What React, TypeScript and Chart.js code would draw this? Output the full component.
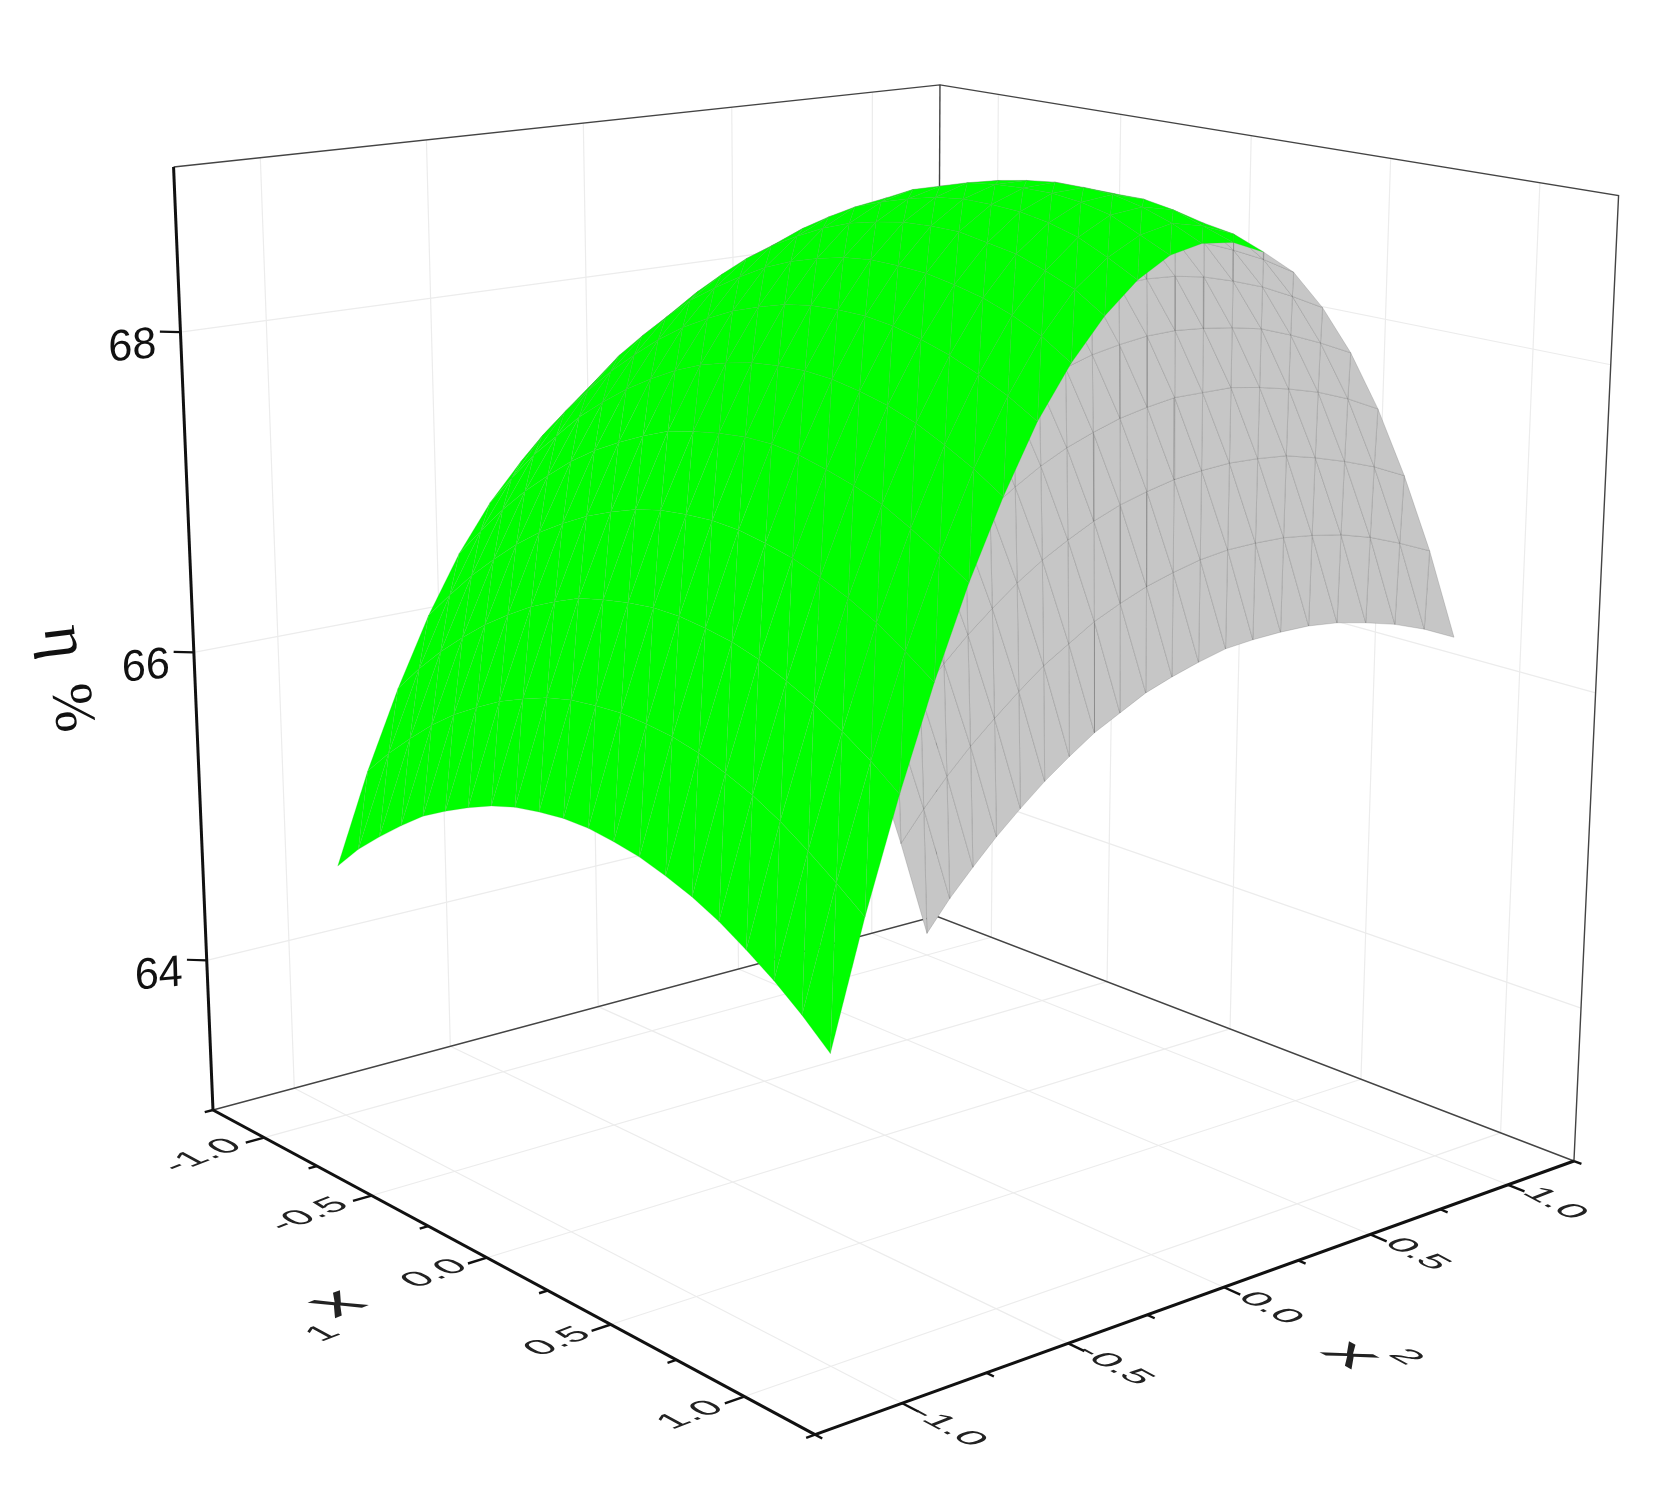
import React, { useEffect, useRef } from "react";
import { Chart, registerables } from "chart.js";
Chart.register(...registerables);

const x1Values = [-1,-0.9,-0.8,-0.7,-0.6,-0.5,-0.4,-0.3,-0.2,-0.1,0,0.1,0.2,0.3,0.4,0.5,0.6,0.7,0.8,0.9,1];
const x2Values = [-1,-0.9,-0.8,-0.7,-0.6,-0.5,-0.4,-0.3,-0.2,-0.1,0,0.1,0.2,0.3,0.4,0.5,0.6,0.7,0.8,0.9,1];
// one row per x2 value, one column per x1 value
const surfaceZ = [
[64.65,64.82,64.96,65.09,65.21,65.30,65.38,65.45,65.50,65.53,65.55,65.55,65.53,65.50,65.45,65.39,65.31,65.21,65.10,64.97,64.82],
[65.22,65.39,65.54,65.68,65.80,65.90,65.99,66.06,66.12,66.16,66.18,66.19,66.18,66.16,66.12,66.06,65.99,65.90,65.79,65.67,65.54],
[65.71,65.89,66.05,66.19,66.32,66.43,66.53,66.61,66.68,66.72,66.75,66.77,66.77,66.75,66.72,66.67,66.60,66.52,66.42,66.31,66.18],
[66.14,66.32,66.49,66.64,66.78,66.90,67.00,67.09,67.16,67.22,67.26,67.28,67.29,67.28,67.25,67.21,67.15,67.08,66.99,66.88,66.76],
[66.50,66.69,66.87,67.03,67.17,67.30,67.41,67.50,67.58,67.65,67.69,67.72,67.74,67.74,67.72,67.68,67.63,67.57,67.48,67.38,67.27],
[66.79,66.99,67.18,67.34,67.50,67.63,67.75,67.85,67.94,68.01,68.06,68.10,68.12,68.13,68.12,68.09,68.05,67.99,67.91,67.82,67.71],
[67.02,67.23,67.42,67.59,67.75,67.89,68.02,68.13,68.22,68.30,68.36,68.41,68.44,68.45,68.45,68.43,68.39,68.34,68.27,68.19,68.09],
[67.18,67.40,67.59,67.78,67.94,68.09,68.23,68.34,68.44,68.53,68.60,68.65,68.69,68.71,68.71,68.70,68.67,68.63,68.57,68.49,68.38],
[67.27,67.50,67.70,67.89,68.06,68.22,68.36,68.49,68.60,68.69,68.77,68.83,68.87,68.90,68.91,68.91,68.88,68.85,68.79,68.72,68.61],
[67.30,67.53,67.74,67.94,68.12,68.28,68.43,68.56,68.68,68.78,68.87,68.93,68.98,69.02,69.04,69.04,69.03,69.00,68.95,68.87,68.78],
[67.26,67.49,67.72,67.92,68.11,68.28,68.44,68.58,68.70,68.81,68.90,68.98,69.03,69.08,69.10,69.11,69.11,69.09,69.05,68.97,68.89],
[67.15,67.39,67.62,67.83,68.03,68.21,68.37,68.52,68.65,68.77,68.87,68.95,69.02,69.07,69.10,69.12,69.12,69.11,69.07,69.01,68.93],
[66.98,67.23,67.46,67.68,67.89,68.07,68.24,68.40,68.54,68.66,68.77,68.86,68.93,68.99,69.03,69.06,69.06,69.06,69.03,68.97,68.91],
[66.73,66.99,67.24,67.46,67.67,67.87,68.05,68.21,68.36,68.49,68.60,68.70,68.78,68.84,68.89,68.93,68.94,68.94,68.93,68.90,68.83],
[66.42,66.69,66.94,67.18,67.40,67.60,67.78,67.95,68.11,68.24,68.37,68.47,68.56,68.63,68.69,68.73,68.75,68.76,68.75,68.73,68.69],
[66.05,66.32,66.58,66.82,67.05,67.26,67.45,67.63,67.79,67.94,68.06,68.18,68.27,68.35,68.42,68.47,68.50,68.51,68.51,68.49,68.46],
[65.61,65.89,66.15,66.40,66.64,66.85,67.05,67.24,67.41,67.56,67.70,67.82,67.92,68.01,68.08,68.13,68.17,68.20,68.20,68.19,68.17],
[65.10,65.39,65.66,65.91,66.16,66.38,66.59,66.78,66.96,67.12,67.26,67.39,67.50,67.60,67.67,67.74,67.78,67.81,67.83,67.83,67.81],
[64.52,64.82,65.10,65.36,65.61,65.84,66.06,66.26,66.44,66.61,66.76,66.89,67.01,67.11,67.20,67.27,67.33,67.36,67.38,67.39,67.38],
[63.87,64.18,64.47,64.74,64.99,65.23,65.46,65.66,65.86,66.03,66.19,66.33,66.46,66.57,66.66,66.74,66.80,66.85,66.88,66.89,66.89],
[63.16,63.48,63.77,64.05,64.31,64.56,64.79,65.01,65.20,65.39,65.55,65.70,65.84,65.95,66.05,66.14,66.21,66.26,66.30,66.32,66.32],
];
const majorTicks = [-1,-0.5,0,0.5,1];
const minorTicks = [-1.25,-0.75,-0.25,0.25,0.75,1.25];
const zTicks = [64,66,68];
const AX = 1.25, ZMIN = 63, ZMAX = 69;

function den(a:number,b:number,z:number){const u=(a+AX)/(2*AX),v=(b+AX)/(2*AX),w=(z-ZMIN)/(ZMAX-ZMIN);return 1-0.1653*u+0.1403*v-0.0574*w;}
function project(a:number,b:number,z:number){
  const u=(a+AX)/(2*AX),v=(b+AX)/(2*AX),w=(z-ZMIN)/(ZMAX-ZMIN);
  const d=den(a,b,z);
  return {x:(467.3*u+854.3*v+213-49.4*w)/d,y:(87.5*u-65.5*v+1110-952.6*w)/d};
}
const ln=(pts:any[],color:string,width:number,extra:any={})=>({type:"scatter",data:pts,showLine:true,borderColor:color,borderWidth:width,pointRadius:0,fill:false,...extra});

function buildDatasets(){
  const front:any[]=[],tris:any[]=[],back:any[]=[];
  const P=project;
  front.push(ln([P(-AX,-AX,ZMIN),P(-AX,-AX,ZMAX)],"#111",3));
  front.push(ln([P(-AX,-AX,ZMIN),P(AX,-AX,ZMIN)],"#111",3));
  front.push(ln([P(AX,-AX,ZMIN),P(AX,AX,ZMIN)],"#111",3));
  for(const t of majorTicks){
    front.push(ln([P(t,-AX,ZMIN),P(t,-AX-0.055,ZMIN)],"#111",2.4));
    front.push(ln([P(AX,t,ZMIN),P(AX+0.055,t,ZMIN)],"#111",2.4));
  }
  for(const t of minorTicks){
    front.push(ln([P(t,-AX,ZMIN),P(t,-AX-0.025,ZMIN)],"#111",2.4));
    front.push(ln([P(AX,t,ZMIN),P(AX+0.025,t,ZMIN)],"#111",2.4));
  }
  for(const z of zTicks) front.push(ln([P(-AX,-AX,z),P(-AX-0.037,-AX-0.037,z)],"#111",2.2));
  const cells:any[]=[];
  for(let j=0;j<x2Values.length-1;j++)for(let i=0;i<x1Values.length-1;i++){
    const v=(ii:number,jj:number)=>[x1Values[ii],x2Values[jj],surfaceZ[jj][ii]];
    for(const tri of [[v(i,j),v(i+1,j),v(i,j+1)],[v(i+1,j),v(i+1,j+1),v(i,j+1)]]){
      const d=(den(tri[0][0],tri[0][1],tri[0][2])+den(tri[1][0],tri[1][1],tri[1][2])+den(tri[2][0],tri[2][1],tri[2][2]))/3;
      const p=tri.map(q=>P(q[0],q[1],q[2]));
      const cross=(p[1].x-p[0].x)*(p[2].y-p[0].y)-(p[1].y-p[0].y)*(p[2].x-p[0].x);
      cells.push({d,p,top:cross<0});
    }
  }
  cells.sort((a,b)=>a.d-b.d);
  for(const c of cells){
    tris.push(ln([...c.p,c.p[0]],c.top?"rgba(70,190,70,0.3)":"rgba(90,90,90,0.28)",0.8,{fill:"shape",backgroundColor:c.top?"#00ff00":"#c6c6c6"}));
  }
  const G="#ececec";
  for(const t of majorTicks){
    back.push(ln([P(t,-AX,ZMIN),P(t,AX,ZMIN)],G,1.2));
    back.push(ln([P(-AX,t,ZMIN),P(AX,t,ZMIN)],G,1.2));
    back.push(ln([P(-AX,t,ZMIN),P(-AX,t,ZMAX)],G,1.2));
    back.push(ln([P(t,AX,ZMIN),P(t,AX,ZMAX)],G,1.2));
  }
  for(const z of zTicks){
    back.push(ln([P(-AX,-AX,z),P(-AX,AX,z)],G,1.2));
    back.push(ln([P(-AX,AX,z),P(AX,AX,z)],G,1.2));
  }
  const F="#444";
  back.unshift(ln([P(-AX,-AX,ZMIN),P(-AX,AX,ZMIN),P(AX,AX,ZMIN)],F,1.4));
  back.unshift(ln([P(-AX,-AX,ZMAX),P(-AX,AX,ZMAX),P(AX,AX,ZMAX),P(AX,AX,ZMIN)],F,1.4));
  back.unshift(ln([P(-AX,AX,ZMIN),P(-AX,AX,ZMAX)],F,1.4));
  return [...front,...tris,...back];
}

const labelPlugin={
  id:"labels3d",
  afterDraw(chart:any){
    const ctx=chart.ctx,P=project;
    const put=(text:string,p:any,m:number[],font:string,color="#222",dx=0)=>{
      ctx.save();ctx.translate(p.x,p.y);ctx.transform(m[0],m[1],m[2],m[3],0,0);
      ctx.font=font;ctx.fillStyle=color;ctx.textAlign="center";ctx.textBaseline="middle";ctx.fillText(text,dx,0);ctx.restore();
    };
    const M1=[0.93,-0.36,0.7,0.38];
    const M2=[0.88,0.475,-0.72,0.28];
    const F='42px "Liberation Sans"';
    for(const t of majorTicks){
      put(t.toFixed(1),P(t,-1.4,ZMIN),M1,F,"#222",t<0?-12:0);
      put(t.toFixed(1),P(1.405,t,ZMIN),M2,F);
    }
    for(const z of zTicks){
      const p=P(-AX,-AX,z);
      put(String(z),{x:p.x-48,y:p.y+15},[0.98,-0.09,0.03,1],'44px "Liberation Sans"',"#111");
    }
    const a=P(0,-1.675,ZMIN);
    put("x",a,M1,'76px "Liberation Sans"');
    put("1",{x:a.x-14,y:a.y+30},M1,'42px "Liberation Sans"');
    const b=P(1.7,0,ZMIN);
    put("x",{x:b.x-11,y:b.y+6},M2,'76px "Liberation Sans"');
    put("2",{x:b.x+44,y:b.y+8},M2,'42px "Liberation Sans"');
    const ca=Math.cos(83*Math.PI/180),sa=Math.sin(83*Math.PI/180);
    put("η",{x:63,y:642},[ca,sa,-sa,ca],'64px "Liberation Serif"',"#111");
    put("%",{x:70,y:708},[ca,sa,-sa,ca],'58px "Liberation Serif"',"#111");
  }
};

export default function App(){
  const ref=useRef<HTMLCanvasElement>(null);
  useEffect(()=>{
    const chart=new Chart(ref.current!,{
      type:"scatter",
      data:{datasets:buildDatasets() as any},
      options:{
        animation:false,responsive:false,events:[],
        layout:{padding:0},
        plugins:{legend:{display:false},tooltip:{enabled:false},title:{display:false}},
        scales:{x:{type:"linear",min:0,max:1670,display:false},y:{type:"linear",min:0,max:1490,reverse:true,display:false}},
      },
      plugins:[labelPlugin as any],
    });
    return ()=>chart.destroy();
  },[]);
  return <canvas ref={ref} width={1670} height={1490} style={{position:"absolute",left:0,top:0,width:1670,height:1490,background:"#fff",filter:"blur(0.5px)"}}/>;
}
